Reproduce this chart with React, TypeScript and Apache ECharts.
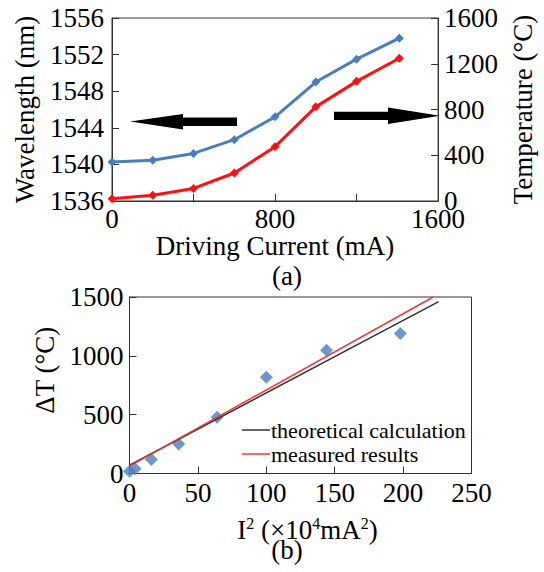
import React, { useEffect, useRef } from 'react';
import * as echarts from 'echarts';

// (a) Driving current vs wavelength / temperature
const currents = [0, 200, 400, 600, 800, 1000, 1200, 1410];
const wavelength = [1540.25, 1540.45, 1541.2, 1542.7, 1545.2, 1549.0, 1551.5, 1553.8];
const temperature = [20, 50, 110, 245, 475, 823, 1046, 1248];

// (b) I^2 vs delta T
const iSquared = [0, 4, 16, 36, 64, 100, 144, 198];
const deltaT = [20, 40, 118, 250, 477, 819, 1048, 1190];
const theoryX = [0, 226];
const theoryY = [70, 1460];
const measuredX = [0, 222];
const measuredY = [62, 1500];
const legendNames = ['theoretical calculation', 'measured results'];

const FONT = "'Liberation Serif', 'Times New Roman', Times, serif";
const BLUE = '#4a7ebb';
const RED = '#ff1010';

export default function App() {
  const ref = useRef<HTMLDivElement>(null);
  useEffect(() => {
    const chart = echarts.init(ref.current!, null, { renderer: 'svg' });
    const plain = (v: number) => String(v);
    const label = { color: '#000', fontFamily: FONT, fontSize: 27, formatter: plain };
    const axisLine = { show: true, lineStyle: { color: '#333', width: 1 } };
    const tick = { show: true, inside: true, length: 7, lineStyle: { color: '#333' } };
    const nameStyle = { color: '#000', fontFamily: FONT, fontSize: 27 };
    chart.setOption({
      animation: false,
      backgroundColor: '#fff',
      grid: [
        { left: 112, top: 18, width: 344, height: 183, show: true, borderColor: '#333', borderWidth: 1 },
        { left: 129.5, top: 297, width: 342, height: 176.5, show: true, borderColor: '#333', borderWidth: 1 },
      ],
      xAxis: [
        {
          gridIndex: 0, type: 'value', min: 0, max: 1600, interval: 400,
          axisLine, axisTick: tick, splitLine: { show: false },
          axisLabel: { ...label, margin: 4, formatter: (v: number) => (v % 800 === 0 ? String(v) : '') },
          name: 'Driving Current (mA)', nameLocation: 'middle', nameGap: 30, nameTextStyle: nameStyle,
        },
        {
          gridIndex: 1, type: 'value', min: 0, max: 250, interval: 50,
          axisLine, axisTick: tick, splitLine: { show: false },
          axisLabel: { ...label, margin: 6 },
          name: '{a|I}{s|2}{a| (×10}{s|4}{a|mA}{s|2}{a|)}', nameLocation: 'middle', nameGap: 42,
          nameTextStyle: {
            ...nameStyle,
            padding: [0, 0, 0, 14],
            rich: {
              a: { fontFamily: FONT, fontSize: 27, color: '#000', lineHeight: 28 },
              s: { fontFamily: FONT, fontSize: 16, color: '#000', verticalAlign: 'top', lineHeight: 18 },
            },
          },
        },
      ],
      yAxis: [
        {
          gridIndex: 0, type: 'value', min: 1536, max: 1556, interval: 4, position: 'left',
          axisLine, axisTick: tick, splitLine: { show: false },
          axisLabel: { ...label, margin: 8 },
          name: 'Wavelength (nm)', nameLocation: 'middle', nameGap: 74, nameRotate: 90, nameTextStyle: nameStyle,
        },
        {
          gridIndex: 0, type: 'value', min: 0, max: 1600, interval: 400, position: 'right',
          axisLine, axisTick: tick, splitLine: { show: false },
          axisLabel: { ...label, margin: 6 },
          name: 'Temperature (°C)', nameLocation: 'middle', nameGap: 66, nameRotate: 90, nameTextStyle: nameStyle,
        },
        {
          gridIndex: 1, type: 'value', min: 0, max: 1500, interval: 500,
          axisLine, axisTick: tick, splitLine: { show: false },
          axisLabel: { ...label, margin: 6 },
          name: 'ΔT (°C)', nameLocation: 'middle', nameGap: 65, nameRotate: 90,
          nameTextStyle: { ...nameStyle, padding: [0, 0, 0, 30] },
        },
      ],
      legend: {
        data: legendNames,
        orient: 'vertical',
        left: 237,
        top: 413,
        itemWidth: 28,
        itemHeight: 1.5,
        itemGap: 0,
        icon: 'rect',
        textStyle: { color: '#000', fontFamily: FONT, fontSize: 22, lineHeight: 24, padding: [0, 0, 0, -4] },
      },
      series: [
        {
          name: 'Wavelength', type: 'line', xAxisIndex: 0, yAxisIndex: 0,
          data: currents.map((c, i) => [c, wavelength[i]]),
          symbol: 'diamond', symbolSize: 9, color: BLUE,
          lineStyle: { color: BLUE, width: 3 }, itemStyle: { color: BLUE },
        },
        {
          name: 'Temperature', type: 'line', xAxisIndex: 0, yAxisIndex: 1,
          data: currents.map((c, i) => [c, temperature[i]]),
          symbol: 'diamond', symbolSize: 9, color: RED,
          lineStyle: { color: RED, width: 3 }, itemStyle: { color: RED },
        },
        {
          name: 'ΔT data', type: 'scatter', xAxisIndex: 1, yAxisIndex: 2,
          data: iSquared.map((x, i) => [x, deltaT[i]]),
          symbol: 'diamond', symbolSize: 13, itemStyle: { color: BLUE },
        },
        {
          name: legendNames[0], type: 'line', xAxisIndex: 1, yAxisIndex: 2,
          data: theoryX.map((x, i) => [x, theoryY[i]]),
          symbol: 'none', color: '#333', lineStyle: { color: '#333', width: 1.5 }, itemStyle: { color: '#333' },
        },
        {
          name: legendNames[1], type: 'line', xAxisIndex: 1, yAxisIndex: 2,
          data: measuredX.map((x, i) => [x, measuredY[i]]),
          symbol: 'none', color: '#e8393a', lineStyle: { color: '#e8393a', width: 1.5 }, itemStyle: { color: '#e8393a' },
        },
      ],
      graphic: [
        {
          type: 'polygon',
          shape: { points: [[130, 121.5], [183, 114], [183, 117.5], [237, 117.5], [237, 126], [183, 126], [183, 129.5]] },
          style: { fill: '#000' },
        },
        {
          type: 'polygon',
          shape: { points: [[440, 115.7], [388, 107.5], [388, 111.7], [334, 111.7], [334, 120], [388, 120], [388, 124]] },
          style: { fill: '#000' },
        },
        { type: 'text', x: 287, y: 276, style: { text: '(a)', fill: '#000', fontFamily: FONT, fontSize: 27, align: 'center', verticalAlign: 'middle' } },
        { type: 'text', x: 287, y: 550, style: { text: '(b)', fill: '#000', fontFamily: FONT, fontSize: 27, align: 'center', verticalAlign: 'middle' } },
      ],
    });
    return () => chart.dispose();
  }, []);
  return <div ref={ref} style={{ position: 'fixed', left: 0, top: 0, width: 544, height: 572, background: '#fff' }} />;
}
